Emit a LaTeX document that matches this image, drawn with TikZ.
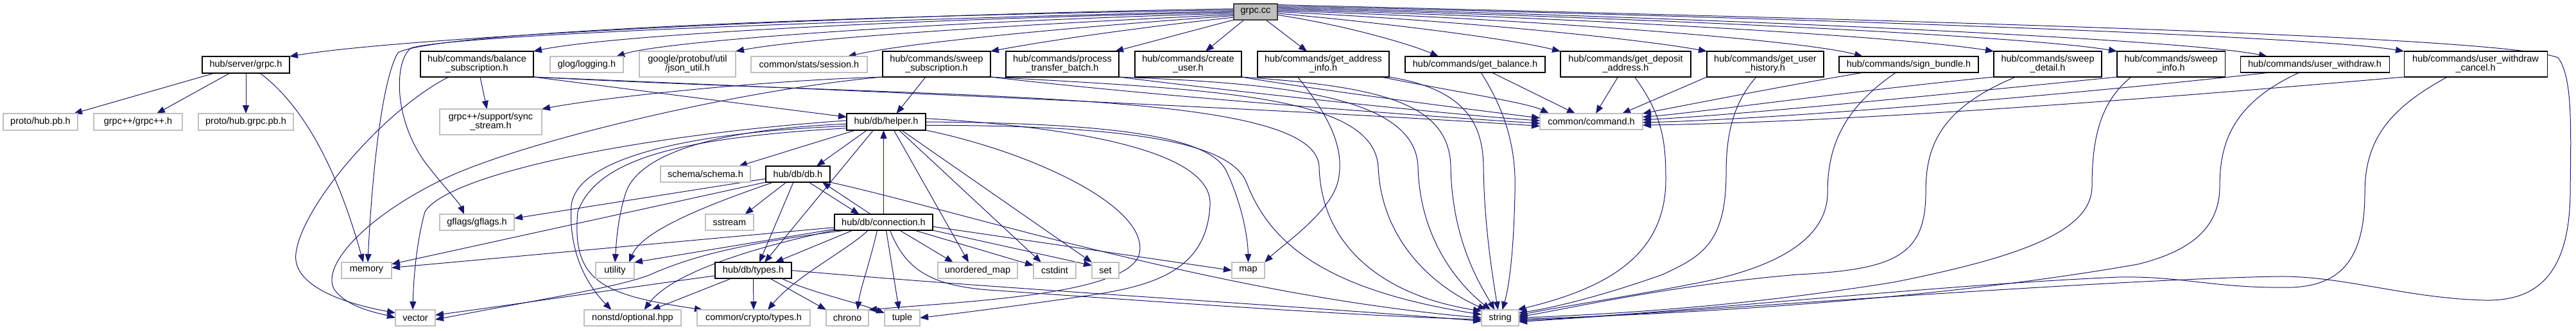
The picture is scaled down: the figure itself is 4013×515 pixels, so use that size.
\documentclass[tikz,border=0pt]{standalone}
\usepackage{fontspec}
\setmainfont{Liberation Sans}
\usetikzlibrary{arrows.meta}
\definecolor{edgec}{HTML}{191970}
\definecolor{gbord}{HTML}{BFBFBF}
\definecolor{dbord}{HTML}{404040}
\pgfdeclarelayer{bg}
\pgfsetlayers{bg,main}
\newcommand{\mkfile}[7]{\node[#1, minimum width={(#4-#3)*0.5pt}, minimum height={(#6-#5)*0.5pt}] (#2) at ({(#3+#4)/2},{(#5+#6)/2}) {#7};}
\begin{document}
\begin{tikzpicture}[x=0.5pt,y=-0.5pt,
 fbox/.style={inner sep=0pt, outer sep=0pt, font=\fontsize{7.25}{7.1}\selectfont, align=center, fill=white},
 extf/.style={fbox, draw=gbord, line width=0.75pt},
 docf/.style={fbox, draw=black, line width=0.55pt},
 rootf/.style={fbox, draw=dbord, fill=gbord, line width=0.6pt},
 dep/.style={draw=edgec, line width=0.5pt, -{Triangle[length=6.5pt,width=5pt]}}]
\useasboundingbox (0,0) rectangle (4013,515);
% nodes
\mkfile{rootf}{grpccc}{1922}{1990}{6}{31}{grpc.cc}
\mkfile{docf}{grpch}{315}{451}{88}{114}{hub/server/grpc.h}
\mkfile{docf}{balsub}{655}{831}{80}{120}{hub/commands/balance\\\_subscription.h}
\mkfile{extf}{glog}{857}{971}{88}{113}{glog/logging.h}
\mkfile{extf}{json}{996}{1146}{80}{120}{google/protobuf/util\\/json\_util.h}
\mkfile{extf}{session}{1170}{1351}{88}{113}{common/stats/session.h}
\mkfile{docf}{swsub}{1375}{1543}{80}{120}{hub/commands/sweep\\\_subscription.h}
\mkfile{docf}{ptb}{1567}{1743}{80}{120}{hub/commands/process\\\_transfer\_batch.h}
\mkfile{docf}{cuser}{1768}{1934}{80}{120}{hub/commands/create\\\_user.h}
\mkfile{docf}{gai}{1959}{2164}{80}{120}{hub/commands/get\_address\\\_info.h}
\mkfile{docf}{gbal}{2189}{2407}{88}{113}{hub/commands/get\_balance.h}
\mkfile{docf}{gda}{2431}{2634}{80}{120}{hub/commands/get\_deposit\\\_address.h}
\mkfile{docf}{guh}{2659}{2841}{80}{120}{hub/commands/get\_user\\\_history.h}
\mkfile{docf}{sign}{2865}{3082}{88}{113}{hub/commands/sign\_bundle.h}
\mkfile{docf}{swd}{3106}{3274}{80}{120}{hub/commands/sweep\\\_detail.h}
\mkfile{docf}{swi}{3298}{3466}{80}{120}{hub/commands/sweep\\\_info.h}
\mkfile{docf}{uw}{3490}{3722}{88}{113}{hub/commands/user\_withdraw.h}
\mkfile{docf}{uwc}{3745}{3968}{80}{120}{hub/commands/user\_withdraw\\\_cancel.h}
\mkfile{extf}{pb}{5}{121}{177}{203}{proto/hub.pb.h}
\mkfile{extf}{grpcpp}{146}{284}{177}{203}{grpc++/grpc++.h}
\mkfile{extf}{grpcpb}{309}{457}{177}{203}{proto/hub.grpc.pb.h}
\mkfile{extf}{sync}{685}{844}{170}{210}{grpc++/support/sync\\\_stream.h}
\mkfile{docf}{helper}{1319}{1442}{177}{203}{hub/db/helper.h}
\mkfile{extf}{command}{2399}{2559}{177}{202}{common/command.h}
\mkfile{extf}{schema}{1029}{1169}{259}{284}{schema/schema.h}
\mkfile{docf}{db}{1193}{1293}{259}{284}{hub/db/db.h}
\mkfile{extf}{gflags}{685}{801}{334}{359}{gflags/gflags.h}
\mkfile{extf}{sstream}{1099}{1174}{334}{359}{sstream}
\mkfile{docf}{conn}{1300}{1453}{334}{359}{hub/db/connection.h}
\mkfile{extf}{memory}{532}{610}{409}{434}{memory}
\mkfile{extf}{utility}{928}{988}{409}{434}{utility}
\mkfile{docf}{types}{1114}{1233}{409}{434}{hub/db/types.h}
\mkfile{extf}{umap}{1461}{1585}{409}{434}{unordered\_map}
\mkfile{extf}{cstdint}{1610}{1676}{409}{434}{cstdint}
\mkfile{extf}{set}{1701}{1743}{409}{434}{set}
\mkfile{extf}{map}{1919}{1970}{409}{434}{map}
\mkfile{extf}{vector}{616}{678}{483}{508}{vector}
\mkfile{extf}{nonstd}{910}{1061}{483}{508}{nonstd/optional.hpp}
\mkfile{extf}{crypto}{1086}{1262}{483}{508}{common/crypto/types.h}
\mkfile{extf}{chrono}{1287}{1353}{483}{508}{chrono}
\mkfile{extf}{tuple}{1378}{1433}{483}{508}{tuple}
\mkfile{extf}{string}{2308}{2366}{483}{508}{string}
\begin{pgfonlayer}{bg}
\fill[white] (0,0) rectangle (4013,515);
% grpc.cc left fan
\draw[dep] (grpccc.172) .. controls (1400,22) and (650,55) .. (grpch.north east);
\draw[dep] (grpccc.175) .. controls (1300,25) and (680,50) .. (620,82) .. controls (592,130) and (578,300) .. ([xshift=1pt]memory.north);
\draw[dep] (grpccc.178) .. controls (1300,32) and (700,55) .. (640,75) .. controls (615,95) and (612,180) .. (660,250) .. controls (690,290) and (715,315) .. ([xshift=-10pt]gflags.north);
\draw[dep] (grpccc.181) .. controls (1400,30) and (950,55) .. (balsub.north east);
\draw[dep] (grpccc.184) .. controls (1500,32) and (1040,62) .. ([xshift=23pt]glog.north);
\draw[dep] (grpccc.187) .. controls (1550,40) and (1250,60) .. (json.north east);
\draw[dep] (grpccc.190) .. controls (1700,40) and (1420,65) .. ([xshift=30pt]session.north);
\draw[dep] (grpccc.194) .. controls (1800,40) and (1650,60) .. (swsub.north east);
\draw[dep] (grpccc.200) -- ([xshift=-3pt]ptb.north east);
\draw[dep] ([xshift=-9pt]grpccc.south) -- ([xshift=13.5pt]cuser.north);
\draw[dep] ([xshift=8pt]grpccc.south) -- ([xshift=-12.75pt]gai.north);
% grpc.cc right fan
\draw[dep] (grpccc.-8) .. controls (2100,40) and (2200,70) .. ([xshift=-28.5pt]gbal.north);
\draw[dep] (grpccc.-4) .. controls (2150,35) and (2350,60) .. (gda.north west);
\draw[dep] (grpccc.0) .. controls (2250,30) and (2550,60) .. (guh.north west);
\draw[dep] (grpccc.3) .. controls (2300,25) and (2800,60) .. ([xshift=-35.75pt]sign.north);
\draw[dep] (grpccc.6) .. controls (2400,25) and (2950,55) .. (swd.north west);
\draw[dep] (grpccc.9) .. controls (2500,25) and (3150,55) .. (swi.north west);
\draw[dep] (grpccc.12) .. controls (2600,25) and (3400,60) .. ([xshift=-37pt]uw.north);
\draw[dep] (grpccc.15) .. controls (2700,25) and (3600,55) .. (uwc.north west);
\draw[dep] (grpccc.18) .. controls (2900,30) and (3900,55) .. (3985,90) .. controls (4008,120) and (4005,200) .. (4004,300) .. controls (4003,430) and (3950,470) .. (3870,468) .. controls (3750,465) and (3650,430) .. (3550,431) .. controls (3300,435) and (2700,480) .. (string.-12);
% grpc.h
\draw[dep] ([xshift=-24.5pt]grpch.south) -- ([xshift=-3pt]pb.north east);
\draw[dep] ([xshift=-12.5pt]grpch.south) -- ([xshift=14.5pt]grpcpp.north);
\draw[dep] (grpch.south) -- (grpcpb.north);
\draw[dep] ([xshift=11pt]grpch.south) .. controls (480,170) and (530,280) .. ([xshift=-2.5pt]memory.north);
% balance_subscription
\draw[dep] ([xshift=2.5pt]balsub.south) -- ([xshift=-3pt]sync.north);
\draw[dep] (balsub.south east) -- (helper.173);
\draw[dep] ([xshift=-22pt]balsub.south) .. controls (600,170) and (470,320) .. (461,395) .. controls (455,440) and (520,470) .. (vector.166);
\draw[dep] (balsub.south east) .. controls (1300,140) and (2000,170) .. (command.185);
\draw[dep] (balsub.south east) .. controls (1500,155) and (2050,140) .. (2055,260) .. controls (2058,380) and (2150,460) .. (string.160);
% sweep_subscription
\draw[dep] (swsub.south west) .. controls (1200,125) and (950,150) .. (sync.north east);
\draw[dep] (swsub.south west) .. controls (1150,140) and (820,220) .. (700,275) .. controls (580,330) and (500,410) .. (520,450) .. controls (540,480) and (590,488) .. (vector.west);
\draw[dep] ([xshift=-8.5pt]swsub.south) -- ([xshift=8pt]helper.north);
\draw[dep] (swsub.south east) .. controls (1800,150) and (2200,180) .. (command.182);
\draw[dep] (swsub.south east) .. controls (1900,140) and (2140,150) .. (2147,260) .. controls (2152,380) and (2240,450) .. (string.150);
% process_transfer_batch, create_user
\draw[dep] (ptb.south east) .. controls (1900,140) and (2250,178) .. (command.179);
\draw[dep] (ptb.south east) .. controls (2000,130) and (2205,150) .. (2209,260) .. controls (2212,380) and (2280,450) .. (string.140);
\draw[dep] (cuser.south east) .. controls (2050,140) and (2300,172) .. (command.176);
\draw[dep] (cuser.south east) .. controls (2150,135) and (2258,160) .. (2260,260) .. controls (2262,380) and (2310,450) .. (string.125);
% get_address_info
\draw[dep] ([xshift=45pt]gai.south) .. controls (2250,140) and (2380,160) .. ([xshift=-33pt]command.north);
\draw[dep] (gai.south east) .. controls (2290,140) and (2310,200) .. (2311,260) .. controls (2312,350) and (2325,430) .. (string.105);
\draw[dep] ([xshift=-20pt]gai.south) .. controls (2070,180) and (2095,230) .. (2085,280) .. controls (2075,330) and (2000,380) .. (map.north east);
% get_balance, get_deposit_address, get_user_history
\draw[dep] ([xshift=13pt]gbal.south) -- ([xshift=-12.5pt]command.north);
\draw[dep] ([xshift=4.5pt]gbal.south) .. controls (2350,180) and (2362,240) .. (2360,300) .. controls (2358,400) and (2350,450) .. (string.75);
\draw[dep] ([xshift=-6pt]gda.south) -- ([xshift=3.5pt]command.north);
\draw[dep] ([xshift=7pt]gda.south) .. controls (2590,180) and (2595,220) .. (2595,280) .. controls (2595,400) and (2500,450) .. (string.25);
\draw[dep] (guh.south west) -- ([xshift=24pt]command.north);
\draw[dep] ([xshift=-7pt]guh.south) .. controls (2700,160) and (2689,210) .. (2689,270) .. controls (2689,380) and (2650,400) .. (2590,428) .. controls (2500,460) and (2420,480) .. (string.15);
% sign_bundle, sweep_detail, sweep_info, user_withdraw, user_withdraw_cancel
\draw[dep] ([xshift=-35pt]sign.south) .. controls (2800,130) and (2620,165) .. (command.north east);
\draw[dep] ([xshift=-10pt]sign.south) .. controls (2870,170) and (2847,230) .. (2847,300) .. controls (2847,380) and (2750,420) .. (2650,440) .. controls (2550,460) and (2420,480) .. (string.8);
\draw[dep] (swd.south west) .. controls (2900,140) and (2650,175) .. (command.5);
\draw[dep] ([xshift=-25pt]swd.south) .. controls (3020,170) and (3000,230) .. (3000,300) .. controls (3000,400) and (2950,420) .. (2800,428) .. controls (2600,445) and (2450,480) .. (string.3);
\draw[dep] (swi.south west) .. controls (3000,150) and (2700,180) .. (command.2);
\draw[dep] ([xshift=-31pt]swi.south) .. controls (3270,160) and (3259,220) .. (3259,290) .. controls (3259,360) and (3150,400) .. (2950,440) .. controls (2700,480) and (2500,490) .. (string.0);
\draw[dep] ([xshift=-35pt]uw.south) .. controls (3300,140) and (2800,185) .. (command.-1);
\draw[dep] ([xshift=-12pt]uw.south) .. controls (3480,160) and (3458,220) .. (3458,290) .. controls (3458,350) and (3420,390) .. (3330,412) .. controls (3000,470) and (2600,490) .. (string.-4);
\draw[dep] (uwc.south west) .. controls (3400,150) and (2900,190) .. (command.-4);
\draw[dep] ([xshift=-22pt]uwc.south) .. controls (3720,170) and (3684,220) .. (3684,300) .. controls (3684,400) and (3650,445) .. (3570,448) .. controls (3450,450) and (3400,430) .. (3300,432) .. controls (3000,445) and (2600,490) .. (string.-8);
% helper.h
\draw[dep] ([xshift=-24pt]helper.south) -- ([xshift=26pt]schema.north);
\draw[dep] ([xshift=-15pt]helper.south) -- ([xshift=14.5pt]db.north);
\draw[dep] ([xshift=-10pt]helper.south) -- ([xshift=8.75pt]types.north);
\draw[dep] (helper.178) .. controls (1000,210) and (700,270) .. (662,330) .. controls (648,380) and (644,440) .. ([xshift=-2pt]vector.north);
\draw[dep] (helper.183) .. controls (1150,200) and (1000,230) .. (975,300) .. controls (962,340) and (960,380) .. (utility.north);
\draw[dep] (helper.186) .. controls (1100,205) and (900,240) .. (890,320) .. controls (885,400) and (920,450) .. ([xshift=-16.5pt]nonstd.north);
\draw[dep] (helper.189) .. controls (1050,215) and (930,250) .. (900,330) .. controls (890,440) and (940,460) .. ([xshift=-39.5pt]crypto.north);
\draw[dep] ([xshift=6pt]helper.south) -- ([xshift=-7pt]umap.north);
\draw[dep] ([xshift=10pt]helper.south) -- ([xshift=-10.5pt]cstdint.north);
\draw[dep] ([xshift=12pt]helper.south) -- (set.north west);
\draw[dep] (helper.south east) .. controls (1600,235) and (1790,320) .. (1775,395) .. controls (1760,460) and (1500,470) .. (chrono.north east);
\draw[dep] (helper.5) .. controls (1700,200) and (1890,240) .. (1885,320) .. controls (1880,420) and (1800,445) .. (1700,460) .. controls (1600,475) and (1480,490) .. (tuple.east);
\draw[dep] (helper.0) .. controls (1750,192) and (1890,215) .. (1912,270) .. controls (1935,320) and (1944,370) .. (map.north);
\draw[dep] (helper.-5) .. controls (1800,195) and (1920,230) .. (1942,285) .. controls (1975,370) and (2050,450) .. (string.170);
% connection.h
\draw[dep] (conn.north) -- (conn.north |- helper.south);
\draw[dep] ([xshift=-10pt]conn.north) -- ([xshift=19pt]db.south);
\draw[dep] (conn.186) -- (memory.6);
\draw[dep] (conn.188) -- (utility.north east);
\draw[dep] (conn.south west) .. controls (1200,380) and (1050,420) .. ([xshift=9pt]nonstd.north);
\draw[dep] (conn.192) .. controls (1150,380) and (1080,400) .. (1020,425) .. controls (980,445) and (850,465) .. (vector.-5);
\draw[dep] ([xshift=-24pt]conn.south) -- ([xshift=17pt]types.north);
\draw[dep] ([xshift=-12pt]conn.south) .. controls (1320,390) and (1240,430) .. ([xshift=11pt]crypto.north);
\draw[dep] ([xshift=-5pt]conn.south) .. controls (1355,410) and (1340,450) .. ([xshift=8pt]chrono.north);
\draw[dep] ([xshift=2pt]conn.south) -- ([xshift=-2.5pt]tuple.north);
\draw[dep] ([xshift=5pt]conn.south) .. controls (1410,420) and (1450,445) .. (1540,452) .. controls (1800,470) and (2100,492) .. (string.185);
\draw[dep] ([xshift=12.5pt]conn.south) -- ([xshift=-19pt]umap.north);
\draw[dep] ([xshift=24pt]conn.south) -- (cstdint.167);
\draw[dep] (conn.south east) -- (set.160);
\draw[dep] (conn.-5) -- (map.west);
% db.h
\draw[dep] ([xshift=8.5pt]db.south) -- ([xshift=-19pt]conn.north);
\draw[dep] (db.188) -- (gflags.6);
\draw[dep] (db.south west) -- (memory.14);
\draw[dep] ([xshift=-19pt]db.south) .. controls (1100,320) and (1000,360) .. ([xshift=11pt]utility.north);
\draw[dep] ([xshift=-9pt]db.south) -- ([xshift=12pt]sstream.north);
\draw[dep] ([xshift=-3.5pt]db.south) -- ([xshift=4.75pt]types.north);
\draw[dep] (db.south east) .. controls (1500,330) and (1900,460) .. (string.180);
% types.h
\draw[dep] (types.188) .. controls (1000,445) and (800,475) .. (vector.8);
\draw[dep] ([xshift=-17pt]types.south) -- ([xshift=15pt]nonstd.north);
\draw[dep] (types.south) -- (crypto.north);
\draw[dep] ([xshift=13pt]types.south) -- (chrono.north west);
\draw[dep] ([xshift=22pt]types.south) .. controls (1260,455) and (1330,470) .. (tuple.165);
\draw[dep] (types.east) .. controls (1550,450) and (2000,475) .. (string.190);
\end{pgfonlayer}
\end{tikzpicture}
\end{document}
